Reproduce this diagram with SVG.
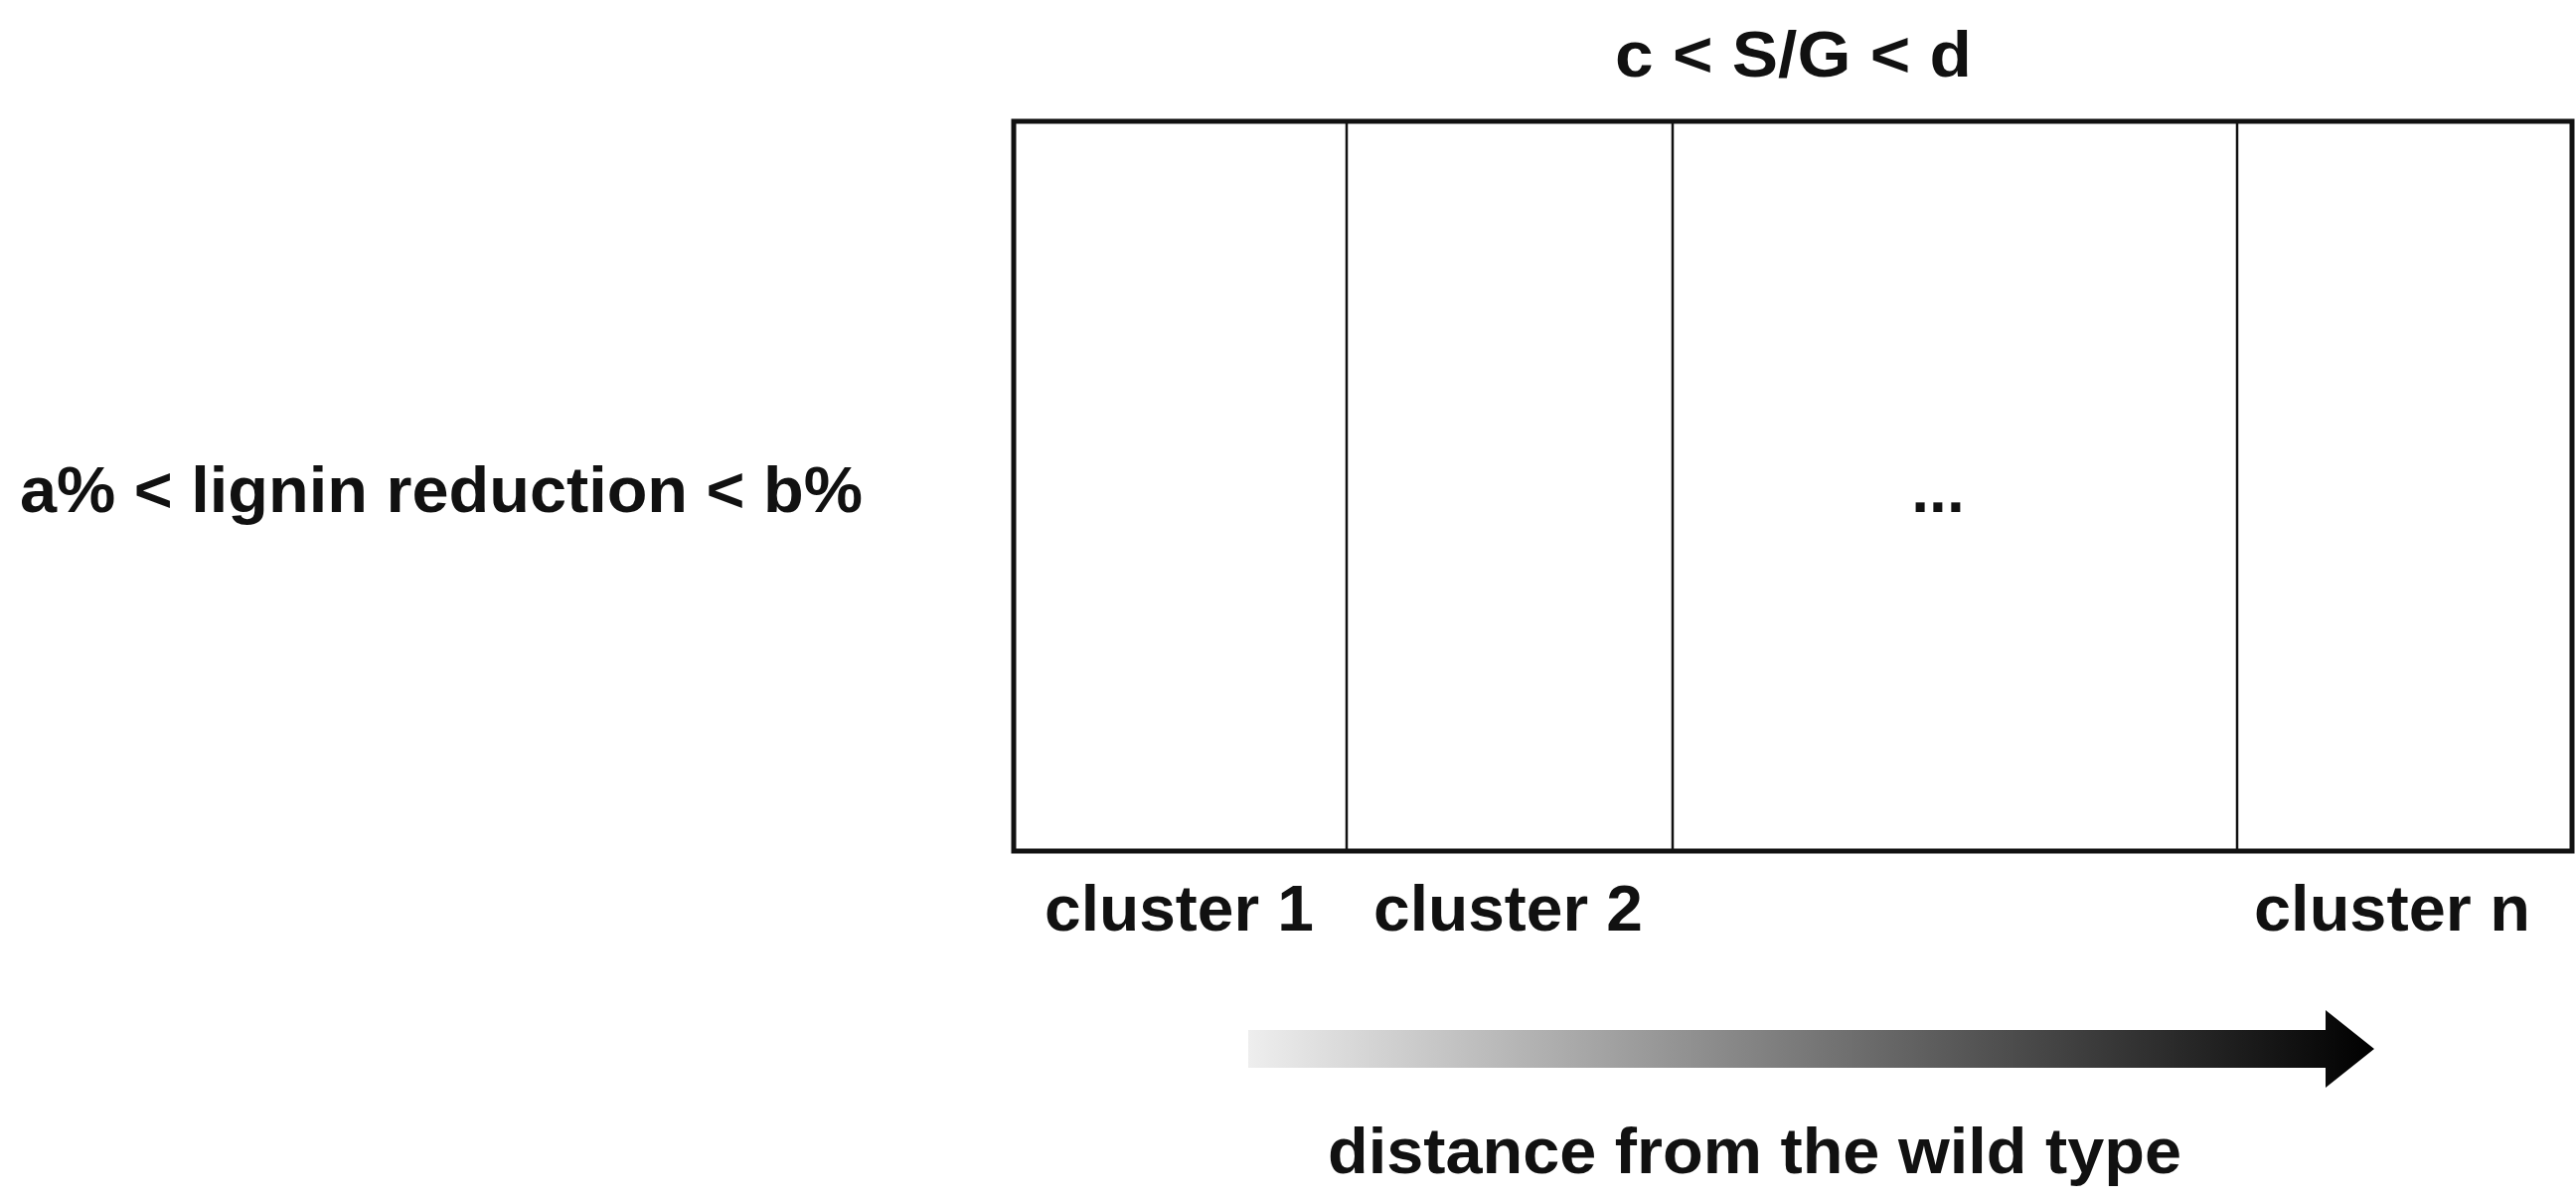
<svg xmlns="http://www.w3.org/2000/svg" width="2592" height="1209" viewBox="0 0 2592 1209">
<style>
text{font-family:"Liberation Sans",Arial,sans-serif;font-weight:bold;font-size:64px;fill:#111}
.div{stroke:#111;stroke-width:2.5}
</style>
<defs>
<linearGradient id="g" x1="0" x2="1" y1="0" y2="0">
<stop offset="0" stop-color="#eeeeee"/><stop offset="1" stop-color="#000"/>
</linearGradient>
</defs>
<rect width="2592" height="1209" fill="#fff"/>
<g id="title"><text x="1625" y="77" textLength="359" lengthAdjust="spacingAndGlyphs">c &lt; S/G &lt; d</text></g>
<g id="leftlabel"><text x="20" y="515" textLength="848" lengthAdjust="spacingAndGlyphs">a% &lt; lignin reduction &lt; b%</text></g>
<g id="grid">
<rect x="1020" y="122" width="1568" height="734" fill="none" stroke="#111" stroke-width="5"/>
<line class="div" x1="1355" y1="122" x2="1355" y2="856"/>
<line class="div" x1="1683" y1="122" x2="1683" y2="856"/>
<line class="div" x1="2251" y1="122" x2="2251" y2="856"/>
<text x="1950" y="515" text-anchor="middle">...</text>
</g>
<g id="c1"><text x="1051" y="936" textLength="271" lengthAdjust="spacingAndGlyphs">cluster 1</text></g>
<g id="c2"><text x="1382" y="936" textLength="271" lengthAdjust="spacingAndGlyphs">cluster 2</text></g>
<g id="cn"><text x="2268" y="936" textLength="278" lengthAdjust="spacingAndGlyphs">cluster n</text></g>
<g id="arrow"><path d="M1256 1036 H2340 V1016 L2389 1055 L2340 1094 V1074 H1256 Z" fill="url(#g)"/></g>
<g id="axislabel"><text x="1336" y="1180" textLength="859" lengthAdjust="spacingAndGlyphs">distance from the wild type</text></g>
</svg>
